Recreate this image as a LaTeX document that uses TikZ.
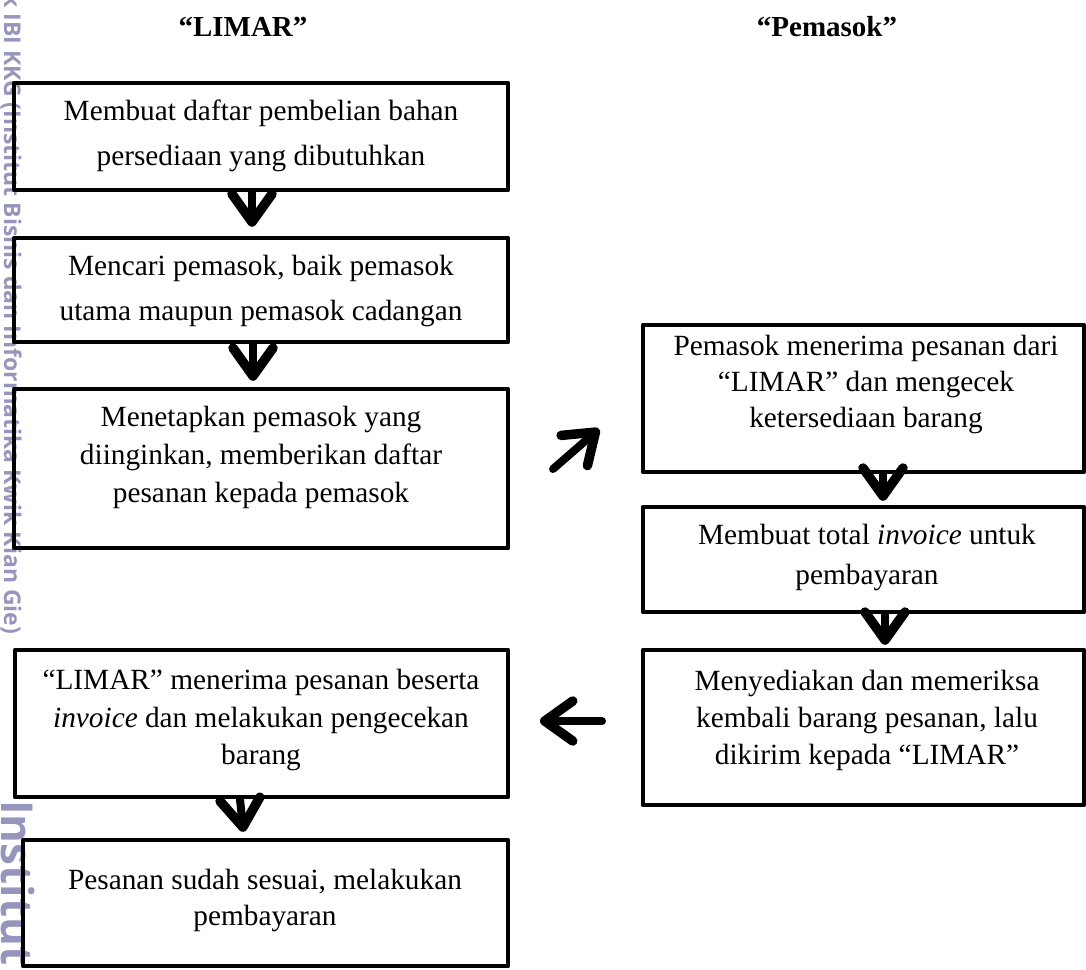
\documentclass[tikz,border=0pt]{standalone}
\usepackage{fontspec}
\setmainfont{Liberation Serif}
\newfontfamily\wmfont{Open Sans}
\usetikzlibrary{arrows.meta}
\definecolor{wmcol}{RGB}{150,150,188}
\begin{document}
\begin{tikzpicture}[x=1pt,y=-1pt,
  box/.style={draw, line width=4.5pt, line join=round, inner sep=0pt},
  txt/.style={inner sep=0pt, align=center},
  head/.style={inner sep=0pt, font=\bfseries\fontsize{29}{35}\selectfont},
  flow/.style={line width=8pt, line cap=round, -{Straight Barb[round, line width=9.5pt, length=28pt, width=40pt]}},
  wmark/.style={rotate=-90, anchor=west, text=wmcol, inner sep=0pt}
]
\useasboundingbox (0,0) rectangle (1086,969);
\begin{scope}
\clip (0,0) rectangle (1086,969);
\node[wmark, font=\wmfont\bfseries\fontsize{23}{23}\selectfont] (wm1) at (11,-7) {k IBI KKG (Institut Bisnis dan Informatika Kwik Kian Gie)};
\node[wmark, font=\wmfont\bfseries\fontsize{44}{44}\selectfont] (wm2) at (18,800) {Institut};

% headers
\node[head] (h1) at (243,27) {“LIMAR”};
\node[head] (h2) at (827,27) {“Pemasok”};

% left column boxes
\node[box, minimum width=494pt, minimum height=107pt] (b1) at (261,136.5) {};
\node[box, minimum width=494pt, minimum height=104pt] (b2) at (261,290) {};
\node[box, minimum width=494pt, minimum height=159pt] (b3) at (261,468.5) {};
\node[box, minimum width=493pt, minimum height=147pt] (b4) at (261.5,723.5) {};
\node[box, minimum width=485pt, minimum height=126pt] (b5) at (265.5,903) {};

% right column boxes
\node[box, minimum width=441pt, minimum height=147pt] (r1) at (863.5,398.5) {};
\node[box, minimum width=441pt, minimum height=105pt] (r2) at (863.5,559.5) {};
\node[box, minimum width=441pt, minimum height=155pt] (r3) at (863.5,727.5) {};

% texts
\node[txt, font=\fontsize{29.3}{45}\selectfont] (t1) at (261,135.5) {Membuat daftar pembelian bahan\\persediaan yang dibutuhkan};
\node[txt, font=\fontsize{29.3}{45}\selectfont] (t2) at (261,290.5) {Mencari pemasok, baik pemasok\\utama maupun pemasok cadangan};
\node[txt, font=\fontsize{29.3}{38}\selectfont] (t3) at (261,457) {Menetapkan pemasok yang\\diinginkan, memberikan daftar\\pesanan kepada pemasok};
\node[txt, font=\fontsize{29.3}{37.5}\selectfont] (t4) at (261,720) {“LIMAR” menerima pesanan beserta\\\textit{invoice} dan melakukan pengecekan\\barang};
\node[txt, font=\fontsize{29.3}{36}\selectfont] (t5) at (265,900) {Pesanan sudah sesuai, melakukan\\pembayaran};
\node[txt, font=\fontsize{29.3}{36}\selectfont] (s1) at (866,384) {Pemasok menerima pesanan dari\\“LIMAR” dan mengecek\\ketersediaan barang};
\node[txt, font=\fontsize{29.3}{40}\selectfont] (s2) at (867,557) {Membuat total \textit{invoice} untuk\\pembayaran};
\node[txt, font=\fontsize{29.3}{37}\selectfont] (s3) at (867,720) {Menyediakan dan memeriksa\\kembali barang pesanan, lalu\\dikirim kepada “LIMAR”};

% arrows
\draw[flow, shorten >=9pt] ([xshift=-9pt]b1.south) -- ([xshift=-9pt]b2.north);
\draw[flow, shorten >=6pt] ([xshift=-8pt]b2.south) -- ([xshift=-8pt]b3.north);
\draw[flow, shorten >=6pt] ([xshift=-21.5pt]b4.south) -- ([xshift=-21.5pt]b5.north);
\draw[flow, shorten >=4pt] ([xshift=19.5pt]r1.south) -- ([xshift=19.5pt]r2.north);
\draw[flow, shorten >=3pt] ([xshift=21.5pt]r2.south) -- ([xshift=21.5pt]r3.north);

\coordinate (d1) at (553,469);
\coordinate (d2) at (599,429);
\draw[flow] (d1) -- (d2);
\coordinate (l1) at (602,721);
\coordinate (l2) at (540,721);
\draw[flow] (l1) -- (l2);
\end{scope}
\end{tikzpicture}
\end{document}
